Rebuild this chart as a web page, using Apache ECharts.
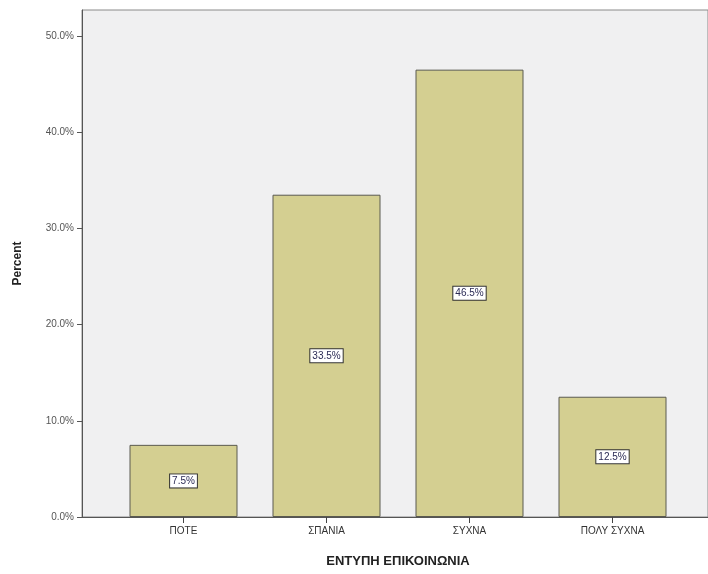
<!DOCTYPE html>
<html>
<head>
<meta charset="utf-8">
<script src="https://cdn.jsdelivr.net/npm/echarts@6/dist/echarts.min.js"></script>
<style>html,body{margin:0;padding:0;background:#fff;}#c{width:708px;height:574px;}</style>
</head>
<body>
<div id="c"></div>
<script>
var categories = ['ΠΟΤΕ', 'ΣΠΑΝΙΑ', 'ΣΥΧΝΑ', 'ΠΟΛΥ ΣΥΧΝΑ'];
var percentValues = [7.5, 33.5, 46.5, 12.5];
var yTickValues = [0, 10, 20, 30, 40, 50];
var xAxisTitle = 'ΕΝΤΥΠΗ ΕΠΙΚΟΙΝΩΝΙΑ';
var yAxisTitle = 'Percent';

var font = 'Liberation Sans, Arial, sans-serif';
var yMax = 52.7;
var chart = echarts.init(document.getElementById('c'), null, {renderer: 'canvas'});
chart.setOption({
  animation: false,
  backgroundColor: '#ffffff',
  grid: [
    {left: 82, top: 10, right: 0, bottom: 57, show: true, backgroundColor: '#f0f0f1', borderColor: '#8a8a8a', borderWidth: 1},
    {left: 112, top: 10, width: 572, bottom: 57}
  ],
  xAxis: [
    {gridIndex: 0, type: 'value', min: 0, max: 1, axisLine: {show: true, onZero: false, lineStyle: {color: '#555', width: 1}},
     axisTick: {show: false}, axisLabel: {show: false}, splitLine: {show: false}},
    {gridIndex: 1, type: 'category', data: categories,
     axisLine: {show: false}, axisTick: {show: true, alignWithLabel: true, length: 6, lineStyle: {color: '#444'}},
     axisLabel: {color: '#333', fontSize: 10, fontFamily: font, margin: 9},
     name: xAxisTitle, nameLocation: 'middle', nameGap: 38,
     nameTextStyle: {color: '#222', fontSize: 13, fontWeight: 'bold', fontFamily: font}}
  ],
  yAxis: [
    {gridIndex: 0, type: 'value', min: 0, max: yMax, interval: 10,
     axisLine: {show: true, lineStyle: {color: '#555', width: 1}},
     axisTick: {show: true, length: 5, customValues: yTickValues, lineStyle: {color: '#555'}},
     axisLabel: {color: '#555', fontSize: 10, fontFamily: font, margin: 8, customValues: yTickValues,
       formatter: function (v) { return v.toFixed(1) + '%'; }},
     splitLine: {show: false},
     name: yAxisTitle, nameLocation: 'middle', nameGap: 58, nameRotate: 90,
     nameTextStyle: {color: '#222', fontSize: 12, fontWeight: 'bold', fontFamily: font}},
    {gridIndex: 1, type: 'value', min: 0, max: yMax, show: false}
  ],
  series: [{
    type: 'bar', xAxisIndex: 1, yAxisIndex: 1, data: percentValues, barWidth: 108,
    itemStyle: {color: '#d4cf91', borderColor: '#5a5a50', borderWidth: 1},
    label: {show: true, position: 'inside', formatter: function (p) { return p.value.toFixed(1) + '%'; },
      color: '#2b2b55', fontSize: 10, fontFamily: font, backgroundColor: '#ffffff',
      borderColor: '#333', borderWidth: 1, padding: [2, 2, 1, 2]}
  }]
});
</script>
</body>
</html>
